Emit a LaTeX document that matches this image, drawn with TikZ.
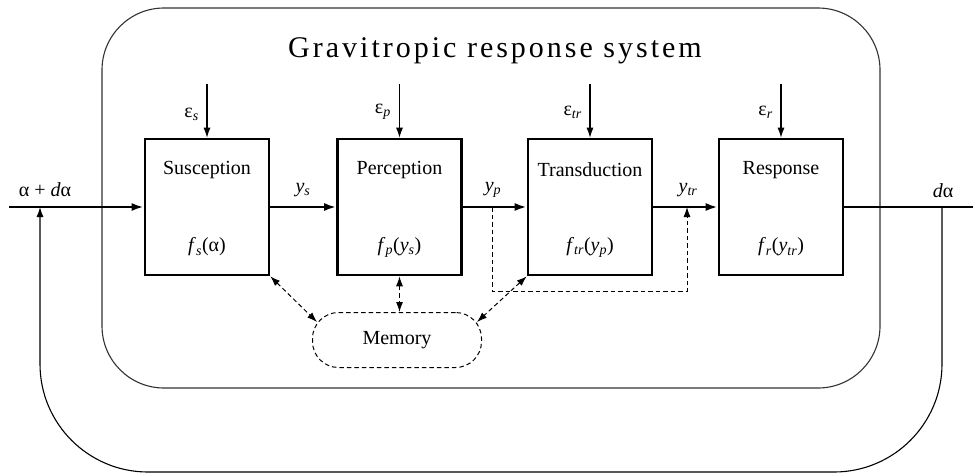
\documentclass[tikz,border=0pt]{standalone}
\usepackage{fontspec}
\setmainfont{Liberation Serif}
\usetikzlibrary{arrows.meta,calc}
\newcommand\sbs[1]{\textsubscript{\itshape #1}}
\begin{document}
\begin{tikzpicture}[x=1pt,y=-1pt,
  blk/.style={draw,line width=2.6pt,minimum width=124pt,minimum height=136pt,inner sep=0pt},
  txt/.style={font=\fontsize{20}{23}\selectfont,inner sep=1pt},
  main/.style={line width=2.3pt,-{Latex[length=12pt,width=8pt]}},
  thinln/.style={line width=1.1pt},
  eps/.style={line width=1.1pt,-{Latex[length=10pt,width=7pt]}},
  dsh/.style={line width=1pt,dash pattern=on 4.5pt off 3pt},
  darr/.style={dsh,{Latex[length=10pt,width=7pt]}-{Latex[length=10pt,width=7pt]}}]
\useasboundingbox (0,0) rectangle (973,475);
% system frame
\node[draw,thinln,draw=black!80,rounded corners=62pt,minimum width=778pt,minimum height=380pt,inner sep=0pt] (sys) at (491,198) {};
\node[font=\fontsize{30}{32}\selectfont\addfontfeature{LetterSpace=10}] (title) at (495,51) {Gravitropic response system};
% blocks
\node[blk] (sus) at (207,207) {};
\node[blk] (per) at (399.5,207) {};
\node[blk] (tra) at (590,207) {};
\node[blk] (res) at (781,207) {};
\node[txt] (susn) at (207,170) {Susception};
\node[txt] (susf) at (207,247) {\textit{f}\sbs{s}(α)};
\node[txt] (pern) at (399.5,170) {Perception};
\node[txt] (perf) at (399.5,247) {\textit{f}\sbs{p}(\textit{y}\sbs{s})};
\node[txt] (tran) at (590,170) {Transduction};
\node[txt] (traf) at (590,247) {\textit{f}\sbs{tr}(\textit{y}\sbs{p})};
\node[txt] (resn) at (781,170) {Response};
\node[txt] (resf) at (781,247) {\textit{f}\sbs{r}(\textit{y}\sbs{tr})};
% noise inputs
\coordinate (es) at (207,84);
\coordinate (ep) at (399.5,84);
\coordinate (et) at (590,84);
\coordinate (er) at (781,84);
\draw[eps] (es) -- (sus.north);
\draw[eps] (ep) -- (per.north);
\draw[eps] (et) -- (tra.north);
\draw[eps] (er) -- (res.north);
\node[txt,anchor=east] (esl) at (200,114) {ε\sbs{s}};
\node[txt,anchor=east] (epl) at (392,112) {ε\sbs{p}};
\node[txt,anchor=east] (etl) at (583,112) {ε\sbs{tr}};
\node[txt,anchor=east] (erl) at (774,112) {ε\sbs{r}};
% main chain
\coordinate (in) at (9,207);
\coordinate (out) at (973,207);
\draw[main] (in) -- (sus.west);
\draw[main] (sus.east) -- (per.west);
\draw[main] (per.east) -- (tra.west);
\draw[main] (tra.east) -- (res.west);
\draw[line width=2.3pt] (res.east) -- (out);
\node[txt] (inl) at (45,190) {α + \textit{d}α};
\node[txt] (ysl) at (303,190) {\textit{y}\sbs{s}};
\node[txt] (ypl) at (493,190) {\textit{y}\sbs{p}};
\node[txt] (ytl) at (688,190) {\textit{y}\sbs{tr}};
\node[txt] (outl) at (943,191) {\textit{d}α};
% feedback loop
\coordinate (fbr) at (942,207);
\coordinate (fbl) at (40,207);
\draw[thinln,rounded corners=108pt,-{Latex[length=10pt,width=7pt]}] (fbr) -- (942,472) -- (40,472) -- (fbl);
% bypass
\coordinate (yp) at (492,207);
\coordinate (ytr) at (687,207);
\draw[dsh,-{Latex[length=10pt,width=7pt]}] (yp) -- (492,291) -- (687,291) -- (ytr);
% memory
\node[draw,dsh,txt,rounded corners=26pt,minimum width=169pt,minimum height=55pt] (mem) at (397,340) {Memory};
\draw[darr] (sus.south east) -- ($(mem.north west)+(5,10)$);
\draw[darr] (per.south) -- (per.south |- mem.north);
\draw[darr] (tra.south west) -- ($(mem.north east)+(-5,10)$);
\end{tikzpicture}
\end{document}
